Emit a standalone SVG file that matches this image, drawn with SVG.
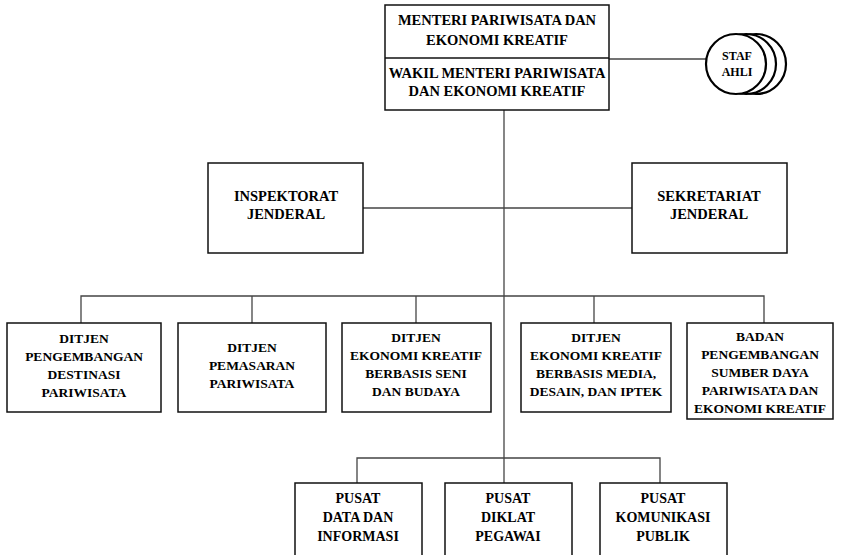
<svg xmlns="http://www.w3.org/2000/svg" width="842" height="555" viewBox="0 0 842 555">
<style>
  .box { fill: #ffffff; stroke: #111; stroke-width: 1.5; }
  .ln { fill: none; stroke: #444; stroke-width: 1.3; }
  .circ { fill: #ffffff; stroke: #000; stroke-width: 2.2; }
  text { font-family: "Liberation Serif", "DejaVu Serif", serif; font-weight: bold; font-size: 13.5px; fill: #000; text-anchor: middle; }
  .big { font-size: 14.5px; }
  .pusat { font-size: 14px; }
  .small { font-size: 12px; }
</style>
<rect width="842" height="555" fill="#ffffff"/>
<g id="connectors">
  <line class="ln" x1="504" y1="110" x2="504" y2="483"/>
  <line class="ln" x1="609" y1="59" x2="706" y2="59"/>
  <line class="ln" x1="363" y1="208" x2="632" y2="208"/>
  <polyline class="ln" points="81,323 81,296 764,296 764,323"/>
  <line class="ln" x1="252" y1="296" x2="252" y2="323"/>
  <line class="ln" x1="416" y1="296" x2="416" y2="323"/>
  <line class="ln" x1="594" y1="296" x2="594" y2="323"/>
  <polyline class="ln" points="357,483 357,458 660,458 660,483"/>
</g>
<g id="menteri">
  <rect class="box" x="385" y="5" width="224" height="105"/>
  <line class="box" x1="385" y1="58" x2="609" y2="58"/>
  <text class="big" x="497" y="25">MENTERI PARIWISATA DAN</text>
  <text class="big" x="497" y="45">EKONOMI KREATIF</text>
  <text class="big" x="497" y="78">WAKIL MENTERI PARIWISATA</text>
  <text class="big" x="497" y="96">DAN EKONOMI KREATIF</text>
</g>
<g id="staf-ahli">
  <circle class="circ" cx="756" cy="64" r="30"/>
  <circle class="circ" cx="746" cy="64" r="30"/>
  <circle class="circ" cx="736" cy="64" r="30"/>
  <text class="small" x="737" y="60">STAF</text>
  <text class="small" x="737" y="76">AHLI</text>
</g>
<g id="inspektorat">
  <rect class="box" x="208" y="163" width="155" height="90"/>
  <text class="big" x="286" y="201">INSPEKTORAT</text>
  <text class="big" x="286" y="219">JENDERAL</text>
</g>
<g id="sekretariat">
  <rect class="box" x="632" y="163" width="155" height="90"/>
  <text class="big" x="709" y="201">SEKRETARIAT</text>
  <text class="big" x="709" y="219">JENDERAL</text>
</g>
<g id="ditjen-destinasi">
  <rect class="box" x="7" y="323" width="154" height="89"/>
  <text x="84" y="343">DITJEN</text>
  <text x="84" y="361">PENGEMBANGAN</text>
  <text x="84" y="379">DESTINASI</text>
  <text x="84" y="397">PARIWISATA</text>
</g>
<g id="ditjen-pemasaran">
  <rect class="box" x="178" y="323" width="148" height="89"/>
  <text x="252" y="352">DITJEN</text>
  <text x="252" y="370">PEMASARAN</text>
  <text x="252" y="388">PARIWISATA</text>
</g>
<g id="ditjen-seni">
  <rect class="box" x="342" y="323" width="149" height="89"/>
  <text x="416" y="342">DITJEN</text>
  <text x="416" y="360">EKONOMI KREATIF</text>
  <text x="416" y="378">BERBASIS SENI</text>
  <text x="416" y="396">DAN BUDAYA</text>
</g>
<g id="ditjen-media">
  <rect class="box" x="521" y="323" width="150" height="89"/>
  <text x="596" y="342">DITJEN</text>
  <text x="596" y="360">EKONOMI KREATIF</text>
  <text x="596" y="378">BERBASIS MEDIA,</text>
  <text x="596" y="396">DESAIN, DAN IPTEK</text>
</g>
<g id="badan-sdm">
  <rect class="box" x="687" y="323" width="146" height="96"/>
  <text x="760" y="341">BADAN</text>
  <text x="760" y="359">PENGEMBANGAN</text>
  <text x="760" y="377">SUMBER DAYA</text>
  <text x="760" y="395">PARIWISATA DAN</text>
  <text x="760" y="413">EKONOMI KREATIF</text>
</g>
<g id="pusat-data">
  <rect class="box" x="295" y="483" width="127" height="80"/>
  <text class="pusat" x="358" y="503">PUSAT</text>
  <text class="pusat" x="358" y="522">DATA DAN</text>
  <text class="pusat" x="358" y="541">INFORMASI</text>
</g>
<g id="pusat-diklat">
  <rect class="box" x="445" y="483" width="127" height="80"/>
  <text class="pusat" x="508" y="503">PUSAT</text>
  <text class="pusat" x="508" y="522">DIKLAT</text>
  <text class="pusat" x="508" y="541">PEGAWAI</text>
</g>
<g id="pusat-komunikasi">
  <rect class="box" x="600" y="483" width="127" height="80"/>
  <text class="pusat" x="663" y="503">PUSAT</text>
  <text class="pusat" x="663" y="522">KOMUNIKASI</text>
  <text class="pusat" x="663" y="541">PUBLIK</text>
</g>
</svg>
